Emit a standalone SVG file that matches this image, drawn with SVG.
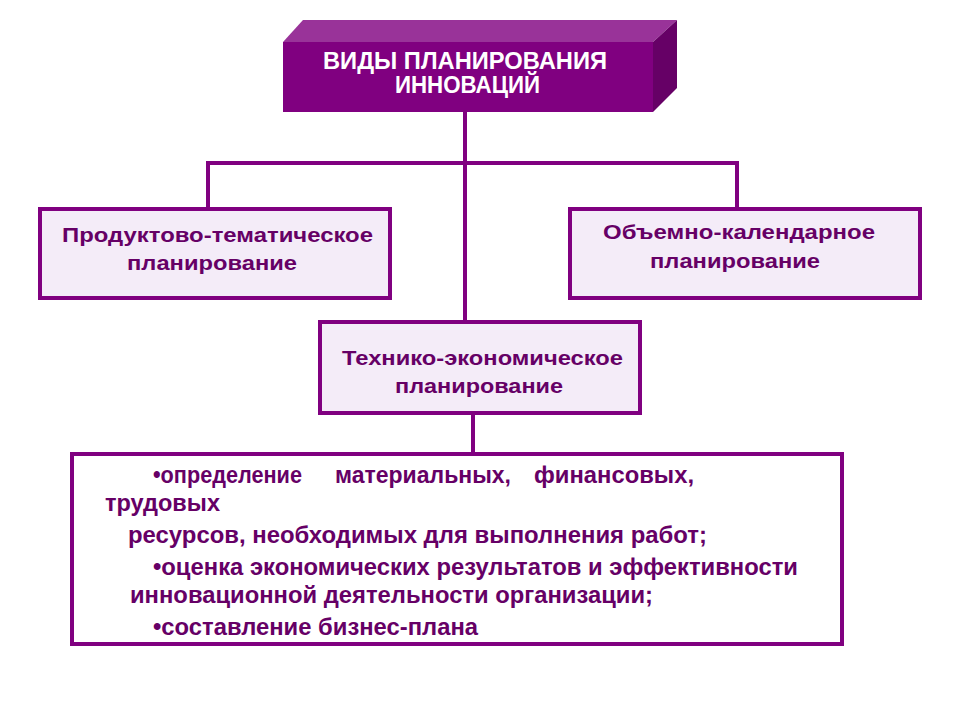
<svg xmlns="http://www.w3.org/2000/svg" width="960" height="720" viewBox="0 0 960 720">
<style>
.box{fill:#F4ECF8;stroke:#800080;stroke-width:4}
.wbox{fill:#FFFFFF;stroke:#800080;stroke-width:4}
.conn{fill:none;stroke:#800080;stroke-width:4}
.lbl{font-family:"Liberation Sans",Arial,sans-serif;font-weight:bold;font-size:21px;fill:#660066;text-anchor:start}
.title{font-family:"Liberation Sans",Arial,sans-serif;font-weight:bold;font-size:23px;fill:#FFFFFF;text-anchor:start}
.body{font-family:"Liberation Sans Narrow","Liberation Sans",Arial,sans-serif;font-weight:bold;font-size:23px;fill:#660066}
</style>
<rect width="960" height="720" fill="#FFFFFF"/>
<g id="connectors">
<path class="conn" d="M465,110 V322"/>
<path class="conn" d="M208,209 V163 H737 V209"/>
<path class="conn" d="M473,413 V454"/>
</g>
<g id="node-root">
<polygon points="283,42 303,20 677,20 653,42" fill="#993399"/>
<polygon points="653,42 677,20 677,88 653,112" fill="#660066"/>
<rect x="283" y="42" width="370" height="70" fill="#800080"/>
<text class="title" x="323" y="69" textLength="284" lengthAdjust="spacingAndGlyphs">ВИДЫ ПЛАНИРОВАНИЯ</text>
<text class="title" x="395" y="93" textLength="145" lengthAdjust="spacingAndGlyphs">ИННОВАЦИЙ</text>
</g>
<g id="node-product">
<rect class="box" x="40" y="209" width="350" height="89"/>
<text class="lbl" x="62" y="242" textLength="311" lengthAdjust="spacingAndGlyphs">Продуктово-тематическое</text>
<text class="lbl" x="127" y="270" textLength="170" lengthAdjust="spacingAndGlyphs">планирование</text>
</g>
<g id="node-volume">
<rect class="box" x="570" y="209" width="350" height="89"/>
<text class="lbl" x="603" y="239" textLength="272" lengthAdjust="spacingAndGlyphs">Объемно-календарное</text>
<text class="lbl" x="650" y="268" textLength="170" lengthAdjust="spacingAndGlyphs">планирование</text>
</g>
<g id="node-tech">
<rect class="box" x="320" y="322" width="320" height="91"/>
<text class="lbl" x="342" y="365" textLength="281" lengthAdjust="spacingAndGlyphs">Технико-экономическое</text>
<text class="lbl" x="395" y="393" textLength="168" lengthAdjust="spacingAndGlyphs">планирование</text>
</g>
<g id="node-details">
<rect class="wbox" x="72" y="454" width="770" height="190"/>
<text class="body" x="153" y="483" textLength="149" lengthAdjust="spacingAndGlyphs">•определение</text>
<text class="body" x="335" y="483" textLength="176" lengthAdjust="spacingAndGlyphs">материальных,</text>
<text class="body" x="534" y="483" textLength="160" lengthAdjust="spacingAndGlyphs">финансовых,</text>
<text class="body" x="105" y="511" textLength="115" lengthAdjust="spacingAndGlyphs">трудовых</text>
<text class="body" x="128" y="543" textLength="579" lengthAdjust="spacingAndGlyphs">ресурсов, необходимых для выполнения работ;</text>
<text class="body" x="153" y="575" textLength="645" lengthAdjust="spacingAndGlyphs">•оценка экономических результатов и эффективности</text>
<text class="body" x="130" y="603" textLength="523" lengthAdjust="spacingAndGlyphs">инновационной деятельности организации;</text>
<text class="body" x="153" y="635" textLength="325" lengthAdjust="spacingAndGlyphs">•составление бизнес-плана</text>
</g>
</svg>
